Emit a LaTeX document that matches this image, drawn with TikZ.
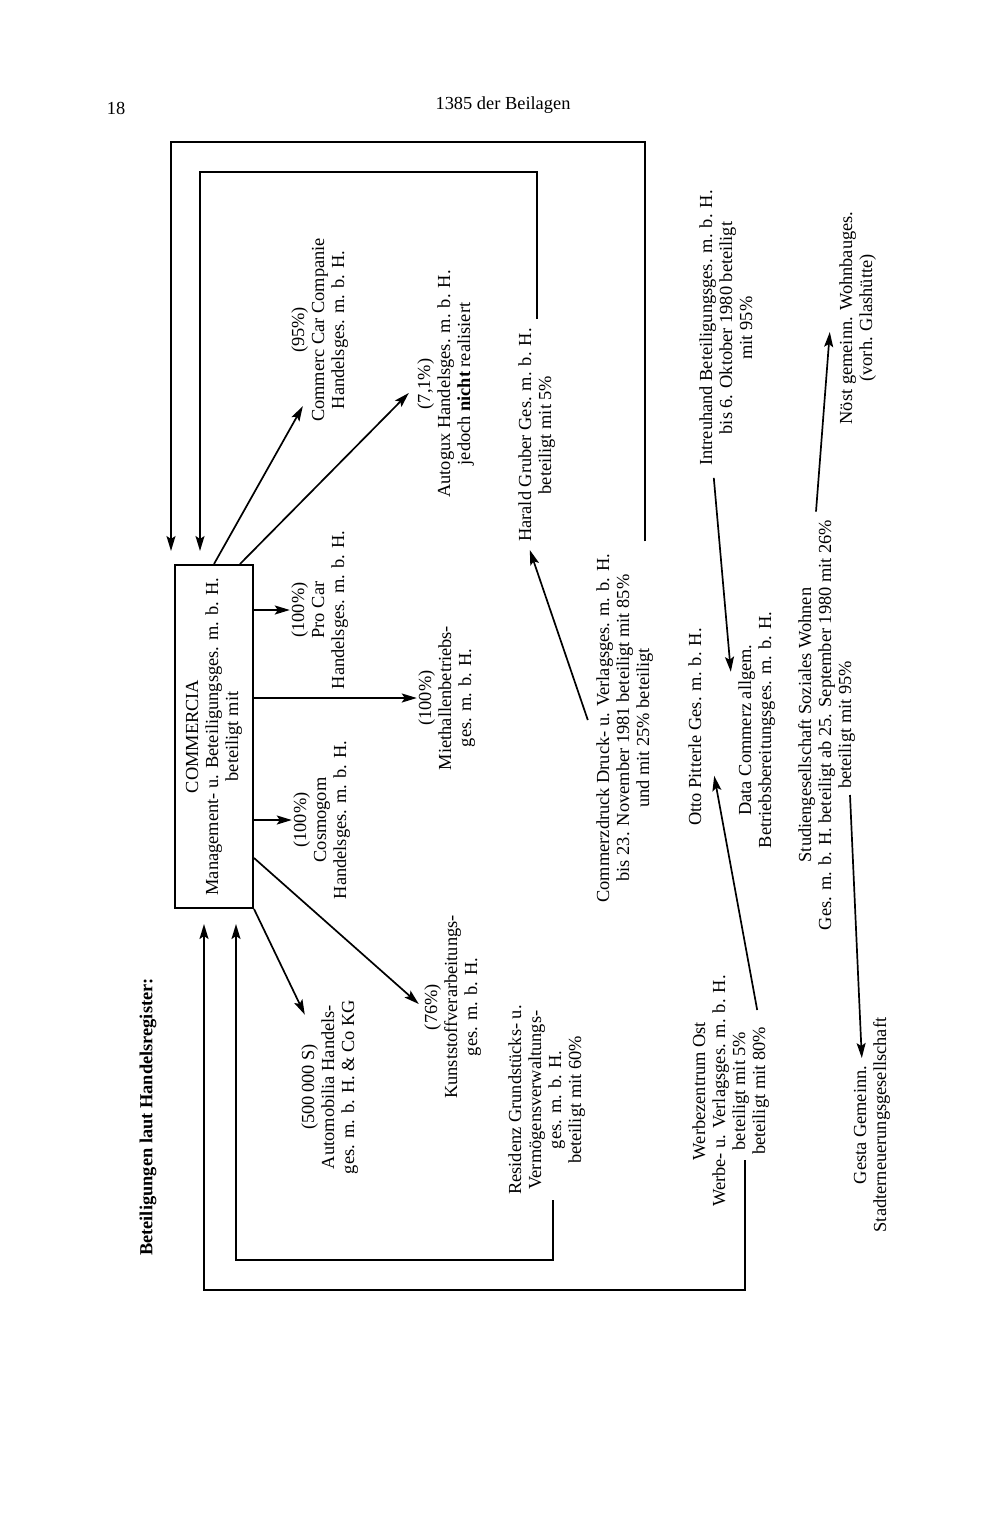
\documentclass[tikz,border=0pt]{standalone}
\usepackage{fontspec}
\setmainfont{Liberation Serif}
\usetikzlibrary{arrows.meta,calc}
\newcommand{\uptext}[1]{\rotatebox{90}{\begin{tabular}{@{}c@{}}#1\end{tabular}}}
\begin{document}
\begin{tikzpicture}[x=1pt, y=-1pt,
    firm/.style={inner sep=0pt, font=\fontsize{18.4}{20}\selectfont},
    hold/.style={draw, line width=2pt, inner sep=0pt,
                 minimum width=78pt, minimum height=343pt,
                 font=\fontsize{18.4}{20}\selectfont},
    share/.style={-{Stealth[length=15pt,width=9pt,inset=3pt]}, line width=1.7pt}
]
\useasboundingbox (0,0) rectangle (994,1536);
\node[firm] (page) at (116,108) {18};
\node[firm] (issue) at (503,105) {1385 der Beilagen};
\node[firm] (title) at (148,1117) {\rotatebox{90}{\bfseries Beteiligungen laut Handelsregister:}};

\node[hold] (comm) at (214,736.5) {\uptext{COMMERCIA\\Management- u. Beteiligungsges. m. b. H.\\beteiligt mit}};

\node[firm] (commerc) at (320,330) {\uptext{(95\%)\\Commerc Car Companie\\Handelsges. m. b. H.}};
\node[firm] (autogux) at (446,384) {\uptext{(7,1\%)\\Autogux Handelsges. m. b. H.\\jedoch \textbf{nicht} realisiert}};
\node[firm] (gruber) at (537,435) {\uptext{Harald Gruber Ges. m. b. H.\\beteiligt mit 5\%}};
\node[firm] (procar) at (320,610) {\uptext{(100\%)\\Pro Car\\Handelsges. m. b. H.}};
\node[firm] (miet) at (447,698) {\uptext{(100\%)\\Miethallenbetriebs-\\ges. m. b. H.}};
\node[firm] (cosmo) at (322,820) {\uptext{(100\%)\\Cosmogom\\Handelsges. m. b. H.}};
\node[firm] (kunst) at (453,1007) {\uptext{(76\%)\\Kunststoffverarbeitungs-\\ges. m. b. H.}};
\node[firm] (automob) at (330,1087) {\uptext{(500\,000 S)\\Automobilia Handels-\\ges. m. b. H. \& Co KG}};
\node[firm] (resid) at (547,1100) {\uptext{Residenz Grundstücks- u.\\Vermögensverwaltungs-\\ges. m. b. H.\\beteiligt mit 60\%}};
\node[firm] (cdruck) at (625,728) {\uptext{Commerzdruck Druck- u. Verlagsges. m. b. H.\\bis 23. November 1981 beteiligt mit 85\%\\und mit 25\% beteiligt}};
\node[firm] (otto) at (697,727) {\uptext{Otto Pitterle Ges. m. b. H.}};
\node[firm] (werbe) at (731,1091) {\uptext{Werbezentrum Ost\\Werbe- u. Verlagsges. m. b. H.\\beteiligt mit 5\%\\beteiligt mit 80\%}};
\node[firm] (intreu) at (728,328) {\uptext{Intreuhand Beteiligungsges. m. b. H.\\bis 6. Oktober 1980 beteiligt\\mit 95\%}};
\node[firm] (data) at (757,730) {\uptext{Data Commerz allgem.\\Betriebsbereitungsges. m. b. H.}};
\node[firm] (studien) at (827,725) {\uptext{Studiengesellschaft Soziales Wohnen\\Ges. m. b. H. beteiligt ab 25. September 1980 mit 26\%\\beteiligt mit 95\%}};
\node[firm] (noest) at (858,318) {\uptext{Nöst gemeinn. Wohnbauges.\\(vorh. Glashütte)}};
\node[firm] (gesta) at (872,1125) {\uptext{Gesta Gemeinn.\\Stadterneuerungsgesellschaft}};

% Rahmenlinien zur COMMERCIA
\coordinate (topO) at (400,142);
\coordinate (topI) at (400,172);
\coordinate (botO) at (400,1290);
\coordinate (botI) at (400,1260);
\draw[share] ([shift={(-10,-12)}]cdruck.north east) |- (topO) -| ([shift={(-3,-13)}]comm.north west);
\draw[share] ([shift={(0,-9)}]gruber.north) |- (topI) -| ([shift={(26,-13)}]comm.north west);
\draw[share] ([shift={(14,69)}]werbe.center) |- (botO) -| ([shift={(-10,15)}]comm.south);
\draw[share] ([shift={(6,5)}]resid.south) |- (botI) -| ([shift={(22,15)}]comm.south);

% Beteiligungen der COMMERCIA
\draw[share] (comm.north) -- ([shift={(13,-16)}]commerc.south west);
\draw[share] ([shift={(26,0)}]comm.north) -- ([shift={(-7,9)}]autogux.west);
\draw[share] (comm.east |- procar.west) -- (procar.west);
\draw[share] (comm.east |- miet.west) -- (miet.west);
\draw[share] (comm.east |- cosmo.west) -- (cosmo.west);
\draw[share] ([shift={(0,-51)}]comm.south east) -- ([shift={(-4,-3)}]kunst.west);
\draw[share] (comm.south east) -- ([shift={(5,15)}]automob.north west);

% weitere Verflechtungen
\draw[share] ([shift={(-7,-8)}]cdruck.west) -- ([shift={(13,8)}]gruber.south west);
\draw[share] ([shift={(-14,35)}]werbe.north east) -- ([shift={(7,-50)}]otto.south east);
\draw[share] ([shift={(16,12)}]intreu.south west) -- ([shift={(-6,60)}]data.north west);
\draw[share] ([shift={(-11,-8)}]studien.north) -- ([shift={(-8,14)}]noest.west);
\draw[share] ([shift={(23,70)}]studien.center) -- ([shift={(10,-67)}]gesta.west);
\end{tikzpicture}
\end{document}
